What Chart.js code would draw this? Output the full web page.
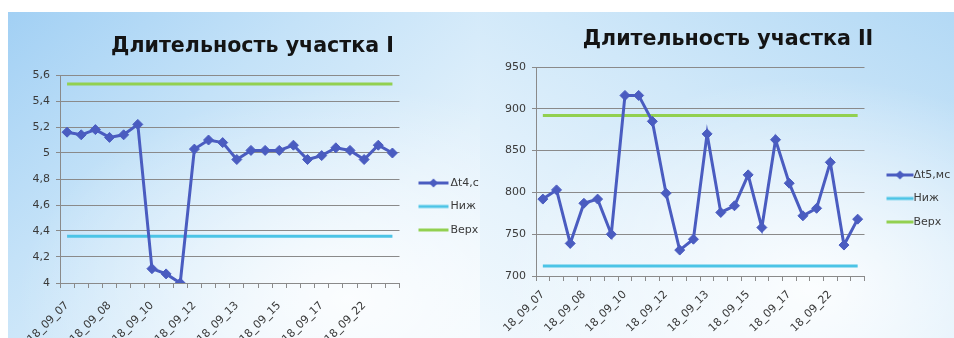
<!DOCTYPE html>
<html lang="ru">
<head>
<meta charset="utf-8">
<title>Длительность участков</title>
<script src="https://cdn.jsdelivr.net/npm/chart.js@4/dist/chart.umd.min.js"></script>
<style>
  html, body { margin: 0; padding: 0; background: #ffffff; }
  body { width: 954px; height: 338px; position: relative; overflow: hidden; }
  .panel { position: absolute; top: 12px; height: 326px; overflow: hidden; }
  #panel1 {
    left: 8px; width: 472px;
    background:
      radial-gradient(ellipse 70% 65% at 72% 88%, rgba(255,255,255,0.85), rgba(255,255,255,0) 100%),
      linear-gradient(140deg, #a2d0f4 0%, #c4e2f8 35%, #e0f0fb 70%, #eef7fd 100%);
  }
  #panel2 {
    left: 480px; width: 474px;
    background:
      radial-gradient(ellipse 65% 65% at 70% 85%, rgba(255,255,255,0.9), rgba(255,255,255,0) 100%),
      linear-gradient(210deg, #b3d9f5 0%, #d0e8f9 40%, #e6f3fc 75%, #f0f8fd 100%);
  }
  canvas { position: absolute; left: 0; top: 0; }
</style>
</head>
<body>
<div class="panel" id="panel1"><canvas id="chart1"></canvas></div>
<div class="panel" id="panel2"><canvas id="chart2"></canvas></div>
<script>
// Measurement dates (three measurements per day)
const categories = [
  '18_09_07', '18_09_07', '18_09_07',
  '18_09_08', '18_09_08', '18_09_08',
  '18_09_10', '18_09_10', '18_09_10',
  '18_09_12', '18_09_12', '18_09_12',
  '18_09_13', '18_09_13', '18_09_13',
  '18_09_15', '18_09_15', '18_09_15',
  '18_09_17', '18_09_17', '18_09_17',
  '18_09_22', '18_09_22', '18_09_22'
];
const labelEvery = 3;

// Section I duration, s
const section1Name = 'Δt4,с';
const section1Values = [5.16, 5.14, 5.18, 5.12, 5.14, 5.22, 4.11, 4.07, 4.00, 5.03, 5.10, 5.08,
                        4.95, 5.02, 5.02, 5.02, 5.06, 4.95, 4.98, 5.04, 5.02, 4.95, 5.06, 5.00];
const section1Lower = 4.36;
const section1Upper = 5.53;
const section1Ticks = { min: 4, max: 5.6, step: 0.2 };

// Section II duration, ms
const section2Name = 'Δt5,мс';
const section2Values = [792, 803, 739, 787, 792, 750, 916, 916, 885, 799, 731, 744,
                        870, 776, 784, 821, 758, 863, 811, 772, 781, 836, 737, 768];
const section2Lower = 712;
const section2Upper = 892;
const section2Ticks = { min: 700, max: 950, step: 50 };

const limitNames = ['Ниж', 'Верх'];

const FONT = '"DejaVu Sans", Verdana, sans-serif';
const SERIES_COLOR = '#4a5cc0';
const LOWER_COLOR = '#4cc4e6';
const UPPER_COLOR = '#92d050';
const GRID_COLOR = '#8a8a8a';
const TEXT_COLOR = '#3a3a3a';
const TITLE_SIZE = 20.6;
const LEGEND_FONT_SIZE = 11;
const LEGEND_PAD = 12.5;

function decimalComma(v) {
  return String(Math.round(v * 10) / 10).replace('.', ',');
}

// Legend sample: a short line (optionally with a diamond marker), drawn on a canvas
function legendSample(color, withMarker, boxWidth, offset, len) {
  const w = 120, h = 14;
  const c = document.createElement('canvas');
  c.width = w; c.height = h;
  const g = c.getContext('2d');
  const x0 = w / 2 - boxWidth / 2 + offset;
  g.strokeStyle = color;
  g.lineWidth = 3;
  g.beginPath();
  g.moveTo(x0, h / 2);
  g.lineTo(x0 + len, h / 2);
  g.stroke();
  if (withMarker) {
    const cx = x0 + len / 2, cy = h / 2, r = 4.5;
    g.fillStyle = color;
    g.beginPath();
    g.moveTo(cx, cy - r); g.lineTo(cx + r, cy); g.lineTo(cx, cy + r); g.lineTo(cx - r, cy);
    g.closePath();
    g.fill();
  }
  return c;
}

function textWidth(text, size) {
  const g = document.createElement('canvas').getContext('2d');
  g.font = size + 'px ' + FONT;
  return g.measureText(text).width;
}

function buildChart(canvasId, box, title, seriesName, values, lower, upper, ticks, yFormat) {
  const canvas = document.getElementById(canvasId);
  canvas.width = box.canvasW;
  canvas.height = box.canvasH;

  const names = [seriesName, limitNames[0], limitNames[1]];
  const boxStart = box.areaRight + LEGEND_PAD;
  const sampleBox = box.textStart - boxStart - LEGEND_FONT_SIZE / 2;
  const sampleOffset = box.sampleStart - boxStart;
  const maxText = Math.max(...names.map(n => textWidth(n, LEGEND_FONT_SIZE)));
  const legendW = 2 * LEGEND_PAD + sampleBox + LEGEND_FONT_SIZE / 2 + maxText;
  const padRight = box.canvasW - box.areaRight - legendW;
  const padLeft = 2 * box.titleCenterX - box.areaRight - legendW;
  const yAxisW = box.areaLeft - padLeft;
  const xAxisH = box.canvasH - box.areaBottom;
  const colH = 3 * (LEGEND_FONT_SIZE + LEGEND_PAD);
  const legendTitleH = 2 * (box.legendFirstY - LEGEND_FONT_SIZE / 2) - box.areaTop - LEGEND_PAD - box.areaBottom + colH;
  const titleHalf = TITLE_SIZE * 1.2 / 2;

  const samples = [
    legendSample(SERIES_COLOR, true, sampleBox, sampleOffset, box.sampleLen),
    legendSample(LOWER_COLOR, false, sampleBox, sampleOffset, box.sampleLen),
    legendSample(UPPER_COLOR, false, sampleBox, sampleOffset, box.sampleLen)
  ];

  return new Chart(canvas, {
    type: 'line',
    data: {
      labels: categories,
      datasets: [
        {
          label: seriesName,
          data: values,
          borderColor: SERIES_COLOR,
          backgroundColor: SERIES_COLOR,
          borderWidth: 3,
          pointStyle: 'rectRot',
          pointRadius: 5,
          pointBorderWidth: 1,
          tension: 0
        },
        {
          label: limitNames[0],
          data: categories.map(() => lower),
          borderColor: LOWER_COLOR,
          borderWidth: 3,
          pointRadius: 0
        },
        {
          label: limitNames[1],
          data: categories.map(() => upper),
          borderColor: UPPER_COLOR,
          borderWidth: 3,
          pointRadius: 0
        }
      ]
    },
    options: {
      responsive: false,
      animation: false,
      devicePixelRatio: 1,
      layout: { padding: { left: padLeft, right: padRight, top: 0, bottom: 0 } },
      plugins: {
        tooltip: { enabled: false },
        title: {
          display: true,
          text: title,
          color: '#141414',
          font: { family: FONT, size: TITLE_SIZE, weight: 'bold', lineHeight: 1.2 },
          padding: { top: box.titleCenterY - titleHalf, bottom: box.areaTop - box.titleCenterY - titleHalf }
        },
        legend: {
          position: 'right',
          align: 'center',
          fullSize: false,
          title: {
            display: true,
            text: '',
            font: { family: FONT, size: 10, lineHeight: 1.2 },
            padding: { top: legendTitleH - 12, bottom: 0 }
          },
          labels: {
            usePointStyle: true,
            pointStyleWidth: sampleBox,
            padding: LEGEND_PAD,
            color: TEXT_COLOR,
            font: { family: FONT, size: LEGEND_FONT_SIZE },
            generateLabels: () => names.map((n, i) => ({
              text: n,
              pointStyle: samples[i],
              fillStyle: 'transparent',
              strokeStyle: 'transparent',
              lineWidth: 0,
              hidden: false,
              datasetIndex: i,
              fontColor: TEXT_COLOR
            }))
          }
        }
      },
      scales: {
        x: {
          offset: true,
          afterFit: s => { s.height = xAxisH; },
          grid: {
            offset: true,
            drawOnChartArea: false,
            drawTicks: true,
            tickLength: 5,
            color: GRID_COLOR
          },
          border: { color: GRID_COLOR, width: 1 },
          ticks: {
            autoSkip: false,
            minRotation: 45,
            maxRotation: 45,
            padding: box.xLabelPad,
            color: TEXT_COLOR,
            font: { family: FONT, size: 11 },
            callback: (v, i) => (i % labelEvery === 0 ? categories[i] : '')
          }
        },
        y: {
          min: ticks.min,
          max: ticks.max,
          afterFit: s => { s.width = yAxisW; },
          grid: { color: GRID_COLOR, tickLength: 4, lineWidth: 1 },
          border: { color: GRID_COLOR, width: 1 },
          ticks: {
            stepSize: ticks.step,
            padding: 6,
            color: TEXT_COLOR,
            font: { family: FONT, size: 11 },
            callback: v => yFormat(v)
          }
        }
      }
    }
  });
}

buildChart('chart1',
  { canvasW: 520, canvasH: 326, areaLeft: 52, areaRight: 389, areaTop: 63, areaBottom: 271,
    titleCenterX: 244.5, titleCenterY: 35, legendFirstY: 171, sampleStart: 408, sampleLen: 30, textStart: 440,
    xLabelPad: 11 },
  'Длительность участка I', section1Name, section1Values, section1Lower, section1Upper, section1Ticks,
  decimalComma);

buildChart('chart2',
  { canvasW: 520, canvasH: 326, areaLeft: 56, areaRight: 382, areaTop: 55, areaBottom: 264,
    titleCenterX: 248, titleCenterY: 28, legendFirstY: 163, sampleStart: 404, sampleLen: 27, textStart: 431,
    xLabelPad: 7 },
  'Длительность участка II', section2Name, section2Values, section2Lower, section2Upper, section2Ticks,
  v => String(v));
</script>
</body>
</html>
